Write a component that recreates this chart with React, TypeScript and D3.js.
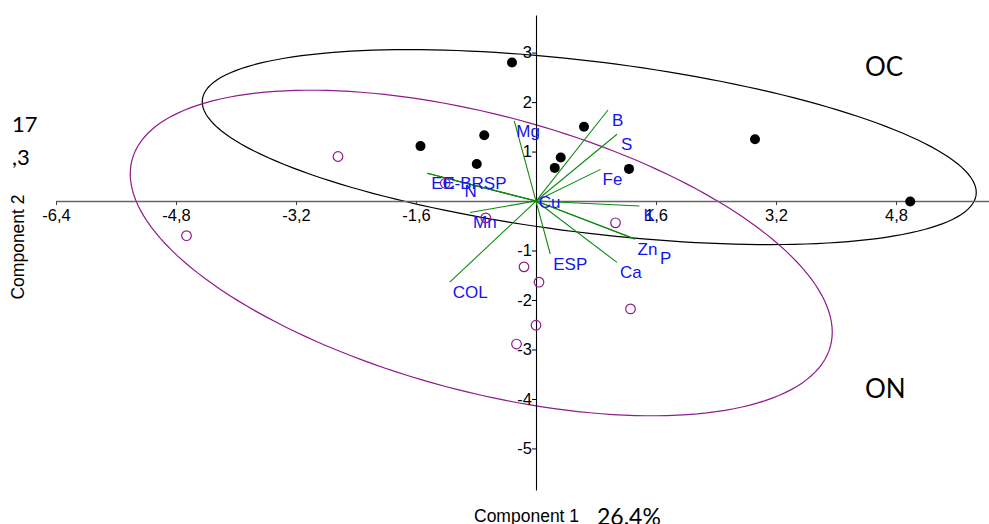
import React, { useEffect, useRef } from 'react';
import * as d3 from 'd3';

// Scores, group OC (filled dots)
const ocX = [-0.32, -1.54, -0.69, -0.79, 0.64, 0.33, 0.25, 1.24, 2.92, 4.99];
const ocY = [2.8, 1.11, 1.33, 0.75, 1.5, 0.88, 0.67, 0.65, 1.25, -0.01];

// Scores, group ON (open circles)
const onX = [-2.64, -4.66, -1.21, -0.67, 1.06, -0.16, 0.04, 1.26, 0.0, -0.26];
const onY = [0.9, -0.7, 0.36, -0.34, -0.44, -1.33, -1.64, -2.18, -2.51, -2.89];

// Variable loadings (biplot vectors)
const loadingNames = ['B', 'S', 'Fe', 'Mg', 'EC', 'E-BRSP', 'N', 'Mn', 'COL', 'ESP', 'Ca', 'Zn', 'P', 'K', 'Cu'];
const loadingX = [0.96, 1.08, 0.86, -0.29, -1.45, -1.45, -1.1, -0.88, -1.15, 0.19, 1.08, 1.3, 1.32, 1.38, 0.05];
const loadingY = [1.84, 1.35, 0.64, 1.62, 0.56, 0.56, 0.42, -0.23, -1.64, -1.07, -1.24, -0.75, -0.77, -0.1, -0.02];

// Group ellipses: centre, spread in x and y, correlation
const ellipseGroups = ['OC', 'ON'];
const ellipseCx = [0.71, -0.73];
const ellipseCy = [1.09, -1.05];
const ellipseSx = [5.16, 4.68];
const ellipseSy = [1.97, 3.29];
const ellipseR = [-0.465, -0.486];

const xTicks = [-6.4, -4.8, -3.2, -1.6, 1.6, 3.2, 4.8];
const yTicks = [-5, -4, -3, -2, -1, 1, 2, 3];

const purple = '#8f1b8c';
const green = '#108a10';
const blue = '#1414f0';

// label offsets in px from the vector tip
const labelOffset: Record<string, [number, number]> = {
    B: [4, 16], S: [4, 16], Fe: [2, 16], Mg: [2, 16], EC: [4, 16], 'E-BRSP': [16, 16],
    N: [11, 17], Mn: [3, 16], COL: [3, 16], ESP: [3, 16], Ca: [3, 16], Zn: [4, 17],
    P: [25, 25], K: [4, 15], Cu: [-1, 6],
};

const App = () => {
    const svgRef = useRef<SVGSVGElement | null>(null);

    useEffect(() => {
        const width = 989;
        const height = 524;
        const svg = d3.select(svgRef.current);
        svg.selectAll('*').remove();
        svg.attr('width', width).attr('height', height);

        const x = d3.scaleLinear().domain([-6.4, 6.04]).range([56, 989]);
        const y = d3.scaleLinear().domain([3.76, -5.84]).range([15, 490]);
        const font = '"Liberation Sans", Arial, sans-serif';

        // Ellipses
        ellipseGroups.forEach((g, gi) => {
            const ts = d3.range(0, 360, 2).map(d => (d * Math.PI) / 180);
            const r = ellipseR[gi];
            const pts: [number, number][] = ts.map(t => [
                x(ellipseCx[gi] + ellipseSx[gi] * Math.cos(t)),
                y(ellipseCy[gi] + ellipseSy[gi] * (r * Math.cos(t) + Math.sqrt(1 - r * r) * Math.sin(t))),
            ]);
            svg.append('path')
                .attr('d', d3.line().curve(d3.curveLinearClosed)(pts))
                .attr('fill', 'none')
                .attr('stroke', g === 'OC' ? '#000' : purple)
                .attr('stroke-width', 1.2);
        });

        // X axis
        const xAxis = svg.append('g')
            .attr('transform', `translate(0, ${y(0)})`)
            .call(d3.axisBottom(x).tickValues(xTicks).tickSize(4).tickSizeOuter(0)
                .tickFormat(d => String(d).replace('.', ',')));
        xAxis.select('.domain').attr('stroke', '#666').attr('stroke-width', 1.6);
        xAxis.selectAll('.tick line').attr('stroke', '#444');
        xAxis.selectAll('.tick text')
            .attr('font-family', font).attr('font-size', 16.5).attr('fill', '#000').attr('dy', '0.95em').attr('y', 4);

        // Y axis
        const yAxis = svg.append('g')
            .attr('transform', `translate(${x(0)}, 0)`)
            .call(d3.axisLeft(y).tickValues(yTicks).tickSize(4).tickSizeOuter(0).tickFormat(d => String(d)));
        yAxis.select('.domain').attr('stroke', '#000').attr('stroke-width', 1.1);
        yAxis.selectAll('.tick text')
            .attr('font-family', font).attr('font-size', 16.5).attr('fill', '#000').attr('x', -4);

        // Loadings
        loadingNames.forEach((name, i) => {
            svg.append('line')
                .attr('x1', x(0)).attr('y1', y(0))
                .attr('x2', x(loadingX[i])).attr('y2', y(loadingY[i]))
                .attr('stroke', green)
                .attr('stroke-width', 1.1);
        });
        loadingNames.forEach((name, i) => {
            const off = labelOffset[name] || [3, 16];
            svg.append('text')
                .attr('x', x(loadingX[i]) + off[0])
                .attr('y', y(loadingY[i]) + off[1])
                .attr('font-family', font)
                .attr('font-size', 17)
                .attr('fill', blue)
                .text(name);
        });

        // Points
        ocX.forEach((v, i) => {
            svg.append('circle')
                .attr('cx', x(v)).attr('cy', y(ocY[i])).attr('r', 5)
                .attr('fill', '#000');
        });
        onX.forEach((v, i) => {
            svg.append('circle')
                .attr('cx', x(v)).attr('cy', y(onY[i])).attr('r', 4.8)
                .attr('fill', 'none').attr('stroke', purple).attr('stroke-width', 1.2);
        });

        // Texts
        const lato = 'Lato, "Open Sans", sans-serif';
        svg.append('text').attr('x', 865).attr('y', 76).attr('font-family', lato).attr('font-size', 26).text('OC');
        svg.append('text').attr('x', 865).attr('y', 398).attr('font-family', lato).attr('font-size', 26).text('ON');
        svg.append('text').attr('x', 12).attr('y', 132).attr('font-family', lato).attr('font-size', 22).text('17');
        svg.append('text').attr('x', 12).attr('y', 165).attr('font-family', lato).attr('font-size', 22).text(',3');
        svg.append('text').attr('x', 474).attr('y', 522).attr('font-family', font).attr('font-size', 17.5).text('Component 1');
        svg.append('text').attr('x', 597).attr('y', 525).attr('font-family', lato).attr('font-size', 23).text('26.4%');
        svg.append('text')
            .attr('transform', 'translate(23.5, 247) rotate(-90)')
            .attr('text-anchor', 'middle')
            .attr('font-family', font).attr('font-size', 17.5)
            .text('Component 2');
    }, []);

    return (
        <div style={{ position: 'absolute', left: 0, top: 0, width: 989, height: 524, background: '#fff' }}>
            <svg ref={svgRef} style={{ display: 'block' }}></svg>
        </div>
    );
};

export default App;
